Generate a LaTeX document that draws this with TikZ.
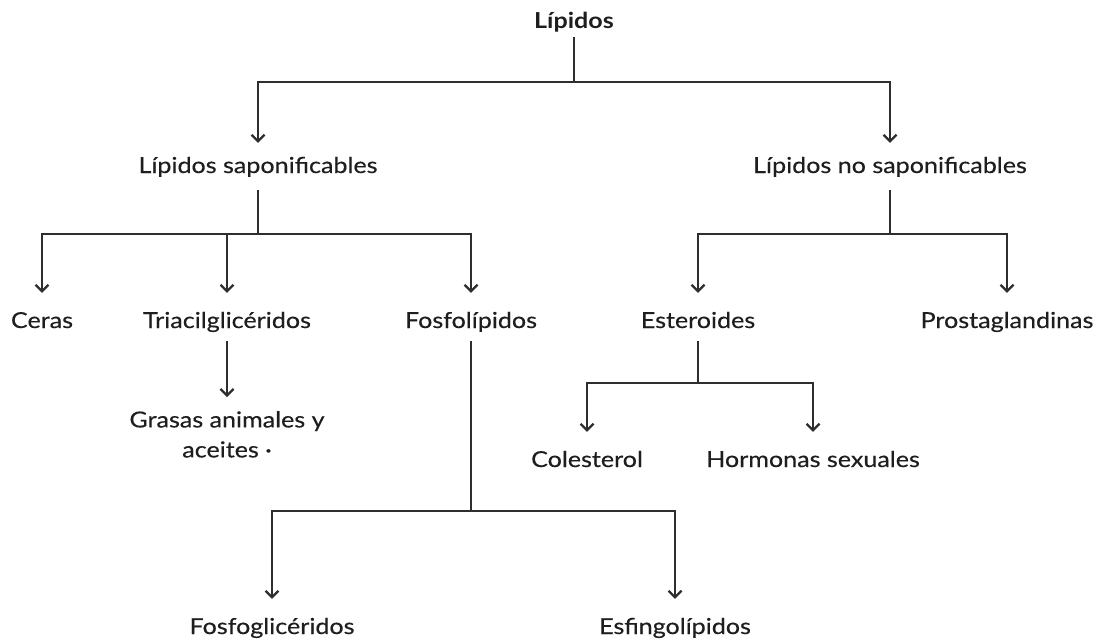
\documentclass[tikz,border=0pt]{standalone}
\usepackage{fontspec}
\setmainfont{Lato}[FakeStretch=1.14,UprightFeatures={FakeBold=0.35}]
\usepackage{tikz}
\usetikzlibrary{arrows.meta,positioning}
\definecolor{Ink}{HTML}{1E1E1E}
\definecolor{Wire}{HTML}{2E2E2E}
\tikzset{
  lbl/.style={font=\fontsize{22}{30}\selectfont,text=Ink,inner sep=0pt,
    text height=35pt,text depth=13pt,anchor=base},
  toplbl/.style={lbl,text height=30pt,text depth=17pt},
  rootlbl/.style={lbl,font=\fontsize{22}{30}\selectfont\bfseries,text height=16pt,text depth=9pt},
  multilbl/.style={font=\fontsize{22}{30}\selectfont,text=Ink,align=center,
    inner xsep=0pt,inner ysep=14pt,anchor=north},
  link/.style={draw=Wire,line width=1.5pt},
  arrow/.style={link,-{Straight Barb[length=6.5pt,width=13pt,line width=2.2pt]}}
}

\begin{document}
\begin{tikzpicture}[x=1pt,y=-1pt]
  \useasboundingbox (0,0) rectangle (1099,641);
  \node[rootlbl] (lip) at (574,28) {Lípidos};
  \node[toplbl] (sap) at (258,173) {Lípidos saponificables};
  \node[toplbl] (nosap) at (890,173) {Lípidos no saponificables};
  \node[lbl] (ceras) at (42,328) {Ceras};
  \node[lbl] (triac) at (227,328) {Triacilglicéridos};
  \node[lbl] (fosfo) at (471,328) {Fosfolípidos};
  \node[lbl] (ester) at (698,328) {Esteroides};
  \node[lbl] (prost) at (1007,328) {Prostaglandinas};
  \node[multilbl] (grasas) at (227,397) {Grasas animales y\\aceites ·};
  \node[lbl] (coles) at (587,467) {Colesterol};
  \node[lbl] (hormo) at (813,467) {Hormonas sexuales};
  \node[lbl] (fosgli) at (272,634) {Fosfoglicéridos};
  \node[lbl] (esfin) at (675,634) {Esfingolípidos};
  \coordinate (j0) at (574,82);
  \coordinate (j1) at (258,234);
  \coordinate (j2) at (890,234);
  \coordinate (j3) at (698,383);
  \coordinate (j4) at (471,511);
  \draw[link] (lip) -- (j0);
  \draw[arrow] (j0) -| (sap);
  \draw[arrow] (j0) -| (nosap);
  \draw[link] (sap) -- (j1);
  \draw[arrow] (j1) -| (ceras);
  \draw[arrow] (j1) -| (triac);
  \draw[arrow] (j1) -| (fosfo);
  \draw[arrow] (triac) -- (grasas);
  \draw[link] (nosap) -- (j2);
  \draw[arrow] (j2) -| (ester);
  \draw[arrow] (j2) -| (prost);
  \draw[link] (ester) -- (j3);
  \draw[arrow] (j3) -| (coles);
  \draw[arrow] (j3) -| (hormo);
  \draw[link] (fosfo) -- (j4);
  \draw[arrow] (j4) -| (fosgli);
  \draw[arrow] (j4) -| (esfin);
\end{tikzpicture}
\end{document}
